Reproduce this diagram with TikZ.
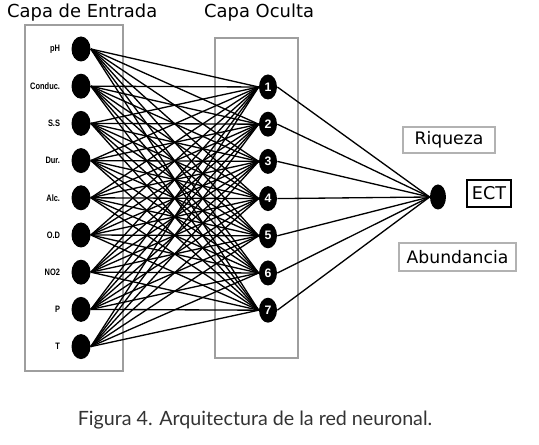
\documentclass[tikz,border=0pt]{standalone}
\usepackage{fontspec}
\setmainfont{DejaVu Sans}
\newfontfamily\labelfont{Liberation Sans}
\newfontfamily\captionfont{Lato}
\usetikzlibrary{shapes.geometric}

\tikzset{
  neuron/.style={ellipse, fill=black, inner sep=0pt, minimum width=0.38cm, minimum height=0.5cm},
  hidneuron/.style={neuron, minimum width=0.36cm, text=white, font=\labelfont\bfseries\fontsize{7}{7}\selectfont},
  layerbox/.style={draw=black!38, line width=1.1pt},
  tagbox/.style={draw=black!30, line width=1pt, inner sep=0pt, font=\fontsize{9.8}{9.8}\selectfont},
  link/.style={line width=0.75pt},
}

\begin{document}
\begin{tikzpicture}[x=0.02cm, y=-0.02cm]
    \useasboundingbox[fill=white] (0,0) rectangle (539,445);

    % Layer frames
    \draw[layerbox] (25,25) rectangle (123,371);
    \draw[layerbox] (215,38) rectangle (298,358);
    \node[font=\fontsize{10.2}{10.2}\selectfont, anchor=west] (tin) at (1,13) {Capa de Entrada};
    \node[font=\fontsize{10.2}{10.2}\selectfont, anchor=west] (thid) at (198,13) {Capa Oculta};

    % Input layer
    \foreach \lab [count=\i] in {pH,Conduc.,S.S,Dur.,Alc.,O.D,NO2,P,T} {
        \node[neuron] (in\i) at (81, {49+37.2*(\i-1)}) {};
        \node[anchor=east, font=\labelfont\bfseries\fontsize{5.3}{5.3}\selectfont, xscale=0.8] (lab\i) at (65, {49+37.2*(\i-1)}) {\lab};
    }

    % Hidden layer
    \foreach \j in {1,...,7}
        \node[hidneuron] (hid\j) at (268, {87+37.2*(\j-1)}) {\j};

    % Output neuron
    \node[neuron, minimum width=0.32cm] (out) at (438,197) {};

    % Connections
    \foreach \i in {1,...,9}
        \foreach \j in {1,...,7}
            \draw[link] (in\i.east) -- (hid\j.west);
    \foreach \j in {1,...,7}
        \draw[link] (hid\j.east) -- (out.west);

    % Output tags
    \node[tagbox, minimum width=1.84cm, minimum height=0.52cm] (riq) at (449,140) {Riqueza};
    \node[draw=black, line width=1.2pt, inner sep=0pt, minimum width=0.88cm, minimum height=0.54cm,
          font=\fontsize{10}{10}\selectfont] (ect) at (489,193.5) {ECT};
    \node[tagbox, minimum width=2.34cm, minimum height=0.56cm] (abu) at (457.5,257) {Abundancia};

    % Caption
    \node[font=\captionfont\fontsize{11.2}{11.2}\selectfont, text=black!80] (cap) at (255,420) {Figura 4. Arquitectura de la red neuronal.};
\end{tikzpicture}
\end{document}
